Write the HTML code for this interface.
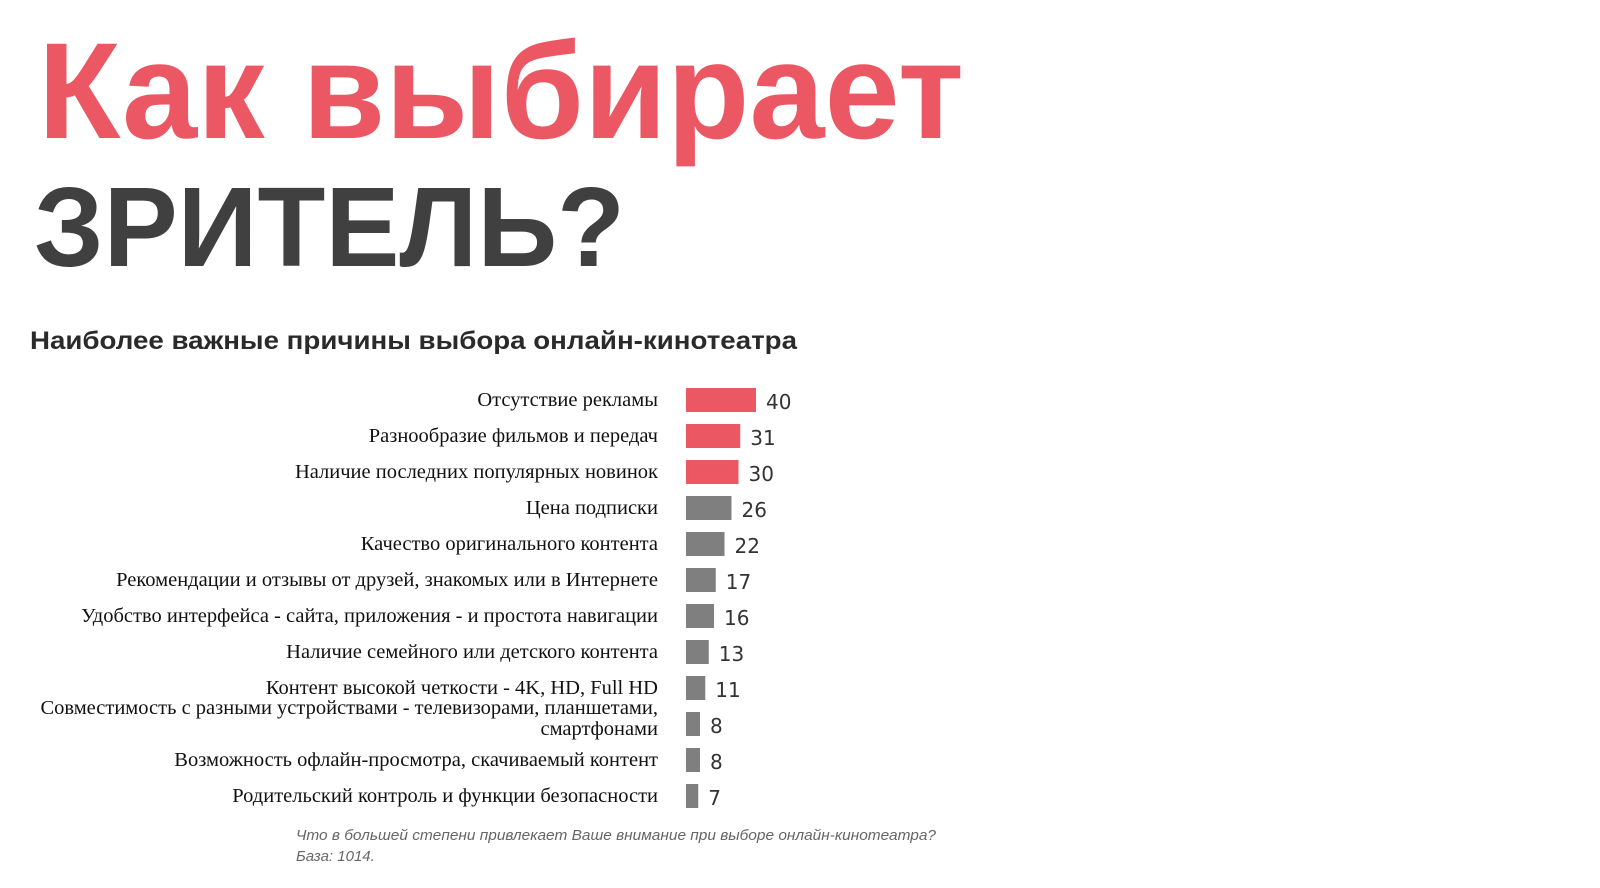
<!DOCTYPE html>
<html><head><meta charset="utf-8"><style>
html,body{margin:0;padding:0;background:#fff;}
svg{display:block;}
</style></head><body>
<svg id="c" width="1600" height="888" xmlns="http://www.w3.org/2000/svg">
<text x="38" y="138" font-family="Liberation Sans, sans-serif" font-weight="bold" font-size="137" fill="#eb5864" textLength="926" lengthAdjust="spacingAndGlyphs">Как выбирает</text>
<text x="34" y="266" font-family="Liberation Sans, sans-serif" font-weight="bold" font-size="113" fill="#404040" textLength="591" lengthAdjust="spacingAndGlyphs">ЗРИТЕЛЬ?</text>
<text x="30" y="349" font-family="Liberation Sans, sans-serif" font-weight="bold" font-size="25" fill="#2a2a2a" textLength="767" lengthAdjust="spacingAndGlyphs">Наиболее  важные  причины  выбора  онлайн-кинотеатра</text>
<g id="bars"></g>
<text x="296" y="840" font-family="Liberation Sans, sans-serif" font-style="italic" font-size="15" fill="#666" textLength="640" lengthAdjust="spacingAndGlyphs">Что в большей степени привлекает Ваше внимание при выборе онлайн-кинотеатра?</text>
<text x="296" y="861" font-family="Liberation Sans, sans-serif" font-style="italic" font-size="15" fill="#666">База:  1014.</text>
</svg>
<script>
const categories = [
  ["Отсутствие рекламы"],
  ["Разнообразие фильмов и передач"],
  ["Наличие последних популярных новинок"],
  ["Цена подписки"],
  ["Качество оригинального контента"],
  ["Рекомендации и отзывы от друзей, знакомых или в Интернете"],
  ["Удобство интерфейса - сайта, приложения - и простота навигации"],
  ["Наличие семейного или детского контента"],
  ["Контент высокой четкости - 4K, HD, Full HD"],
  ["Совместимость с разными устройствами - телевизорами, планшетами,", "смартфонами"],
  ["Возможность офлайн-просмотра, скачиваемый контент"],
  ["Родительский контроль и функции безопасности"]
];
const values = [40, 31, 30, 26, 22, 17, 16, 13, 11, 8, 8, 7];
const highlighted = [true, true, true, false, false, false, false, false, false, false, false, false];

const NS = "http://www.w3.org/2000/svg";
const g = document.getElementById('bars');
const x0 = 686, pxPerUnit = 1.75, top0 = 388, step = 36, barH = 24;
function xScale(v){ return v * pxPerUnit; }
function yBand(i){ return top0 + i * step; }
categories.forEach((lines, i) => {
  const y = yBand(i);
  const cy = y + barH / 2;
  const r = document.createElementNS(NS, 'rect');
  r.setAttribute('x', x0);
  r.setAttribute('y', y);
  r.setAttribute('width', xScale(values[i]));
  r.setAttribute('height', barH);
  r.setAttribute('fill', highlighted[i] ? '#eb5864' : '#7f7f7f');
  
  
  g.appendChild(r);
  const v = document.createElementNS(NS, 'text');
  v.setAttribute('x', x0 + xScale(values[i]) + 10);
  v.setAttribute('y', cy + 9);
  v.setAttribute('font-family', 'DejaVu Sans, Liberation Sans, sans-serif');
  v.setAttribute('font-size', '20');
  v.setAttribute('fill', '#333');
  v.textContent = values[i];
  
  
  g.appendChild(v);
  const t = document.createElementNS(NS, 'text');
  t.setAttribute('x', 658);
  t.setAttribute('text-anchor', 'end');
  t.setAttribute('font-family', 'Liberation Serif, serif');
  t.setAttribute('font-size', '20.5');
  t.setAttribute('fill', '#111');
  
  
  if (lines.length === 1) {
    t.setAttribute('y', cy + 6);
    t.textContent = lines[0];
  } else {
    lines.forEach((ln, k) => {
      const s = document.createElementNS(NS, 'tspan');
      s.setAttribute('x', 658);
      s.setAttribute('y', cy - 10 + k * 21);
      s.textContent = ln;
      t.appendChild(s);
    });
  }
  g.appendChild(t);
});
</script>
</body></html>
